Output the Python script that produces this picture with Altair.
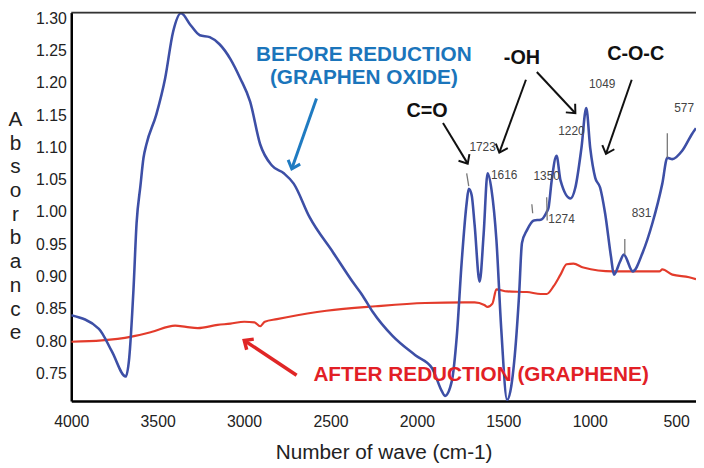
import math
import altair as alt
import pandas as pd

# ---------------- data ----------------
go_wave = [4000, 3840, 3765, 3685, 3665, 3640, 3622, 3600, 3582, 3565, 3508, 3457, 3411, 3365,
           3308, 3256, 3199, 3142, 3079, 3022, 2965, 2907, 2839, 2770, 2713, 2621, 2484, 2370,
           2313, 2255, 2141, 2009, 1912, 1855, 1838, 1798, 1769, 1741, 1712, 1700, 1683, 1666,
           1637, 1614, 1591, 1568, 1540, 1512, 1478, 1454, 1437, 1409, 1392, 1363, 1323, 1283,
           1249, 1238, 1220, 1192, 1169, 1111, 1083, 1048, 1020, 997, 968, 940, 911, 877, 860,
           825, 803, 751, 694, 637, 580, 551, 522, 465, 408, 385]
go_abs = [0.840, 0.819, 0.784, 0.745, 0.773, 0.880, 0.983, 1.040, 1.084, 1.105, 1.151, 1.207, 1.279, 1.308,
          1.289, 1.274, 1.271, 1.260, 1.237, 1.207, 1.171, 1.105, 1.072, 1.060, 1.044, 0.992, 0.937, 0.891,
          0.870, 0.845, 0.808, 0.778, 0.758, 0.722, 0.715, 0.738, 0.808, 0.922, 1.014, 1.036, 1.026, 0.980,
          0.892, 0.965, 1.060, 1.034, 0.957, 0.819, 0.709, 0.730, 0.768, 0.870, 0.952, 0.972, 0.987, 0.988,
          1.000, 1.007, 1.049, 1.087, 1.049, 1.021, 1.038, 1.099, 1.161, 1.099, 1.053, 1.038, 0.998, 0.931, 0.903,
          0.923, 0.934, 0.908, 0.937, 0.983, 1.044, 1.084, 1.082, 1.095, 1.121, 1.130]

rgo_wave = [4000, 3823, 3651, 3537, 3399, 3336, 3268, 3153, 3079, 2999, 2940, 2907, 2880, 2810,
            2753, 2524, 2238, 1952, 1723, 1666, 1610, 1591, 1563, 1540, 1478, 1363, 1283, 1249,
            1209, 1169, 1134, 1094, 1037, 865, 597, 580, 522, 425, 385]
rgo_abs = [0.799, 0.801, 0.807, 0.814, 0.824, 0.822, 0.820, 0.825, 0.827, 0.830, 0.829, 0.823, 0.830, 0.834,
           0.837, 0.847, 0.854, 0.859, 0.860, 0.860, 0.856, 0.853, 0.858, 0.880, 0.877, 0.876, 0.873, 0.873,
           0.885, 0.903, 0.919, 0.920, 0.914, 0.908, 0.908, 0.911, 0.903, 0.899, 0.896]

x_ticks = [4000, 3500, 3000, 2500, 2000, 1500, 1000, 500]
y_ticks = [0.75, 0.80, 0.85, 0.90, 0.95, 1.00, 1.05, 1.10, 1.15, 1.20, 1.25, 1.30]
y_title = ["A", "b", "s", "o", "r", "b", "a", "n", "c", "e"]

# big annotations: text, wave, absorbance, color, size, align
ann_text = ["BEFORE REDUCTION", "(GRAPHEN OXIDE)", "C=O", "-OH", "C-O-C", "AFTER REDUCTION (GRAPHENE)"]
ann_wave = [2307, 2307, 1941, 1392, 734, 2599]
ann_abs = [1.243, 1.207, 1.156, 1.239, 1.245, 0.747]
ann_color = ["#1b75bb", "#1b75bb", "#111111", "#111111", "#111111", "#e21f26"]
ann_size = [21, 21, 20, 20, 20, 21]
ann_align = ["center", "center", "center", "center", "center", "left"]

# peak labels
pk_text = ["1723", "1616", "1350", "1274", "1220", "1049", "831", "577"]
pk_wave = [1620, 1495, 1249, 1163, 1106, 928, 700, 454]
pk_abs = [1.101, 1.058, 1.056, 0.989, 1.125, 1.199, 0.998, 1.161]

# peak marker strokes
mk_wave1 = [1712, 1335, 1249, 797, 551]
mk_wave2 = [1700, 1330, 1246, 797, 551]
mk_abs1 = [1.060, 1.012, 1.023, 0.958, 1.122]
mk_abs2 = [1.040, 0.998, 0.987, 0.934, 1.084]

# arrows: start -> end
ar_w1 = [2581, 1849, 1369, 1306, 757, 2696]
ar_a1 = [1.176, 1.138, 1.205, 1.217, 1.205, 0.747]
ar_w2 = [2724, 1706, 1523, 1083, 906, 2999]
ar_a2 = [1.067, 1.075, 1.092, 1.153, 1.090, 0.801]
ar_col = ["#1f7bc1", "#111111", "#111111", "#111111", "#111111", "#e02626"]
ar_w = [3, 2, 2, 2, 2, 3.5]

# ---------------- layout ----------------
W, H = 632, 393
XD = [4000, 385]
YD = [0.707, 1.309]
kx = W / (XD[0] - XD[1])
ky = H / (YD[1] - YD[0])

xs = alt.Scale(domain=XD, nice=False, zero=False)
ys = alt.Scale(domain=YD, nice=False, zero=False)

go = pd.DataFrame({"w": go_wave, "a": go_abs})
rgo = pd.DataFrame({"w": rgo_wave, "a": rgo_abs})

angles = []
for w1, a1, w2, a2 in zip(ar_w1, ar_a1, ar_w2, ar_a2):
    dx = (w1 - w2) * kx
    dy = (a1 - a2) * ky
    angles.append(math.degrees(math.atan2(dx, -dy)) % 360)
arrows = pd.DataFrame({"w1": ar_w1, "a1": ar_a1, "w2": ar_w2, "a2": ar_a2,
                       "col": ar_col, "sw": ar_w, "ang": angles})
ann = pd.DataFrame({"t": ann_text, "w": ann_wave, "a": ann_abs, "col": ann_color,
                    "sz": ann_size, "al": ann_align})
pk = pd.DataFrame({"t": pk_text, "w": pk_wave, "a": pk_abs})
mk = pd.DataFrame({"w1": mk_wave1, "w2": mk_wave2, "a1": mk_abs1, "a2": mk_abs2})

x_axis = alt.Axis(values=x_ticks, format="d", labelFontSize=16, labelColor="#222",
                  labelPadding=13, tickSize=0, labelFlush=False, labelOverlap=False,
                  domainColor="#000", domainWidth=2.5, grid=False,
                  title="Number of wave (cm-1)",
                  titleFontSize=21, titleFontWeight="normal", titleColor="#222",
                  titleY=52, titleBaseline="middle")
y_axis = alt.Axis(values=y_ticks, format=".2f", labelFontSize=16, labelColor="#222",
                  labelPadding=5, tickSize=0, labelOverlap=False, labelBound=False,
                  domainColor="#000",
                  domainWidth=2.5, grid=False, title=y_title, titleAngle=0, titleFontSize=21,
                  titleFontWeight="normal", titleColor="#222", titleLineHeight=24,
                  titleX=-57, titleY=97, titleAlign="center", titleBaseline="top")


def X(f):
    return alt.X(f, scale=xs, axis=x_axis)


def Y(f):
    return alt.Y(f, scale=ys, axis=y_axis)


base_red = alt.Chart(rgo).mark_line(color="#e33b2b", strokeWidth=2.2, clip=True,
                                    interpolate="monotone").encode(x=X("w:Q"), y=Y("a:Q"))
blue = alt.Chart(go).mark_line(color="#3d4fa6", strokeWidth=2.6, clip=True,
                               interpolate="monotone").encode(x=X("w:Q"), y=Y("a:Q"))
top_border = alt.Chart(pd.DataFrame({"v": [0]})).mark_rule(color="#333", strokeWidth=2).encode(
    x=alt.value(0), x2=alt.value(W), y=alt.value(0)
)
markers = alt.Chart(mk).mark_rule(color="#777", strokeWidth=1.3).encode(
    x=X("w1:Q"), x2="w2:Q", y=Y("a1:Q"), y2="a2:Q"
)
shafts = alt.Chart(arrows).mark_rule().encode(
    x=X("w1:Q"), x2="w2:Q", y=Y("a1:Q"), y2="a2:Q",
    color=alt.Color("col:N", scale=None), strokeWidth=alt.StrokeWidth("sw:Q", scale=None)
)
heads = alt.Chart(arrows).mark_point(shape="M-0.8,0.9L0,0L0.8,0.9", filled=False, size=260,
                                     opacity=1).encode(
    x=X("w2:Q"), y=Y("a2:Q"),
    color=alt.Color("col:N", scale=None), strokeWidth=alt.StrokeWidth("sw:Q", scale=None),
    angle=alt.Angle("ang:Q", scale=None)
)
ann_c = alt.Chart(ann[ann.al == "center"]).mark_text(fontWeight="bold", align="center",
                                                     baseline="middle").encode(
    x=X("w:Q"), y=Y("a:Q"), text="t:N",
    color=alt.Color("col:N", scale=None), size=alt.Size("sz:Q", scale=None)
)
ann_l = alt.Chart(ann[ann.al == "left"]).mark_text(fontWeight="bold", align="left",
                                                   baseline="middle").encode(
    x=X("w:Q"), y=Y("a:Q"), text="t:N",
    color=alt.Color("col:N", scale=None), size=alt.Size("sz:Q", scale=None)
)
pk_c = alt.Chart(pk).mark_text(fontSize=12, color="#444", align="center", baseline="middle").encode(
    x=X("w:Q"), y=Y("a:Q"), text="t:N"
)

chart = alt.layer(base_red, blue, top_border, markers, shafts, heads, ann_c, ann_l, pk_c).properties(
    width=W, height=H,
    padding={"left": 64, "top": 2, "right": 0, "bottom": 64},
    autosize=alt.AutoSizeParams(type="none"),
    background="white",
).configure_view(stroke=None).configure(font="Liberation Sans").configure_axis(labelOverlap=False)

chart.save("out.html", embed_options={"renderer": "svg", "actions": False})
